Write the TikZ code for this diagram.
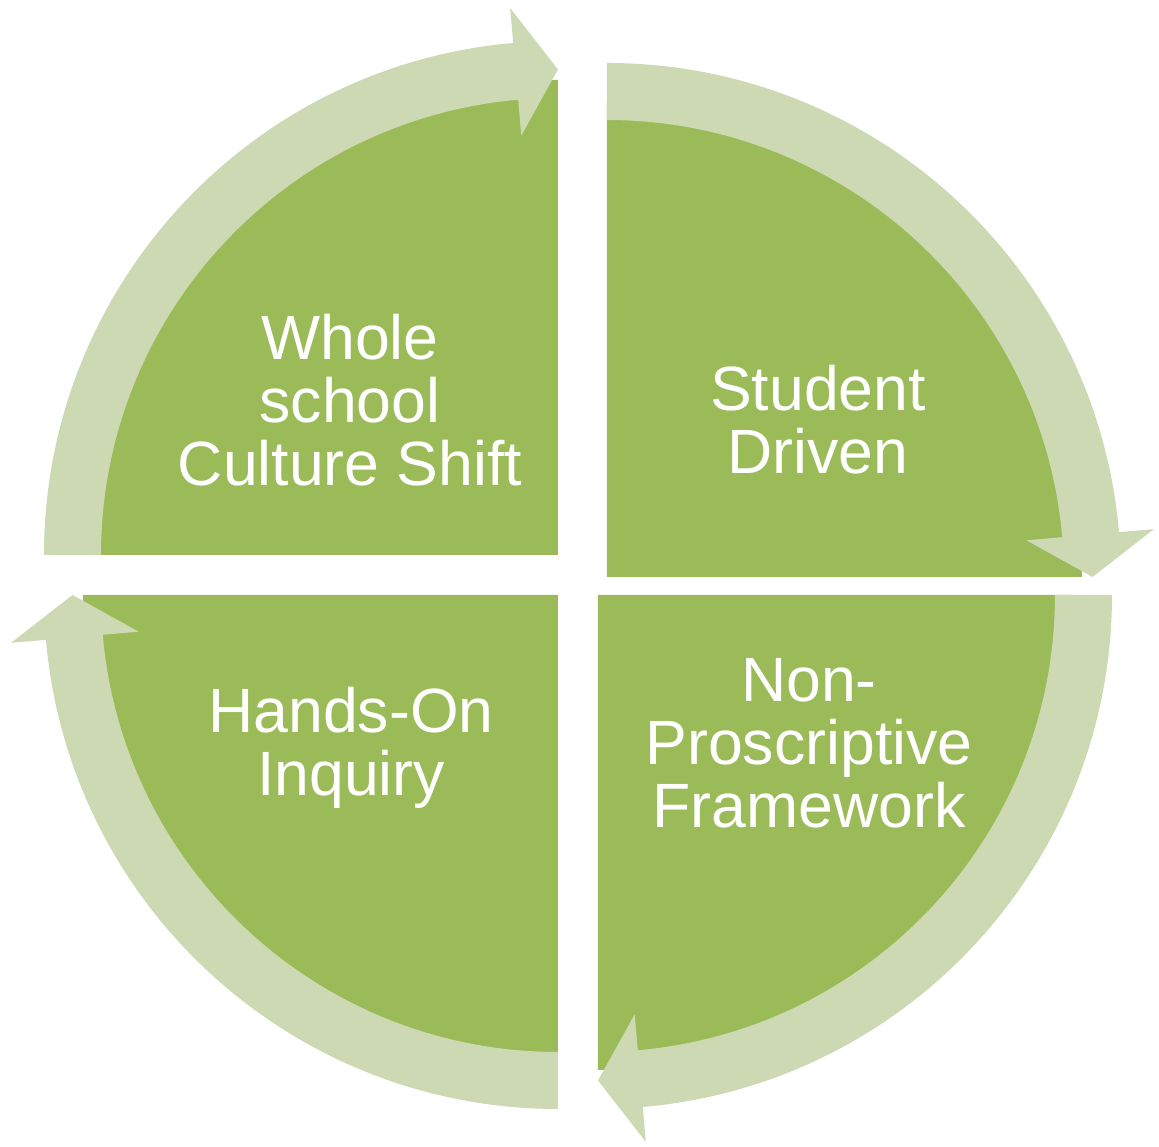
\documentclass[tikz,border=0pt]{standalone}
\usepackage{fontspec}
\setmainfont{Liberation Sans}
\definecolor{piegreen}{RGB}{155,187,89}
\definecolor{ringgreen}{RGB}{205,217,179}
\tikzset{
  pie/.style={fill=piegreen},
  ring/.style={fill=ringgreen},
  txt/.style={text=white, align=center, inner sep=0pt, font=\fontsize{17.8}{17.9}\selectfont}
}
\begin{document}
\begin{tikzpicture}
    \useasboundingbox (0,0) rectangle (11.59,-11.47);

    % Pies
    \fill[pie] (5.58,-5.55) -- ++(90:4.75) arc[start angle=90, end angle=180, radius=4.75] -- cycle;
    \fill[pie] (6.07,-5.77) -- ++(0:4.75) arc[start angle=0, end angle=90, radius=4.75] -- cycle;
    \fill[pie] (5.98,-5.95) -- ++(-90:4.75) arc[start angle=-90, end angle=0, radius=4.75] -- cycle;
    \fill[pie] (5.58,-5.95) -- ++(180:4.75) arc[start angle=180, end angle=270, radius=4.75] -- cycle;

    % Arrows
    \begin{scope}[shift={(5.58,-5.55)}]
      \fill[ring] (180:5.14) arc[start angle=180, end angle=95, radius=5.14] -- (95:5.49) -- (90:4.855) -- (95:4.21) -- (95:4.57) arc[start angle=95, end angle=180, radius=4.57] -- cycle;
    \end{scope}
    \begin{scope}[shift={(6.07,-5.77)}]
      \fill[ring] (90:5.14) arc[start angle=90, end angle=5, radius=5.14] -- (5:5.49) -- (0:4.855) -- (5:4.21) -- (5:4.57) arc[start angle=5, end angle=90, radius=4.57] -- cycle;
    \end{scope}
    \begin{scope}[shift={(5.98,-5.95)}]
      \fill[ring] (0:5.14) arc[start angle=0, end angle=-85, radius=5.14] -- (-85:5.49) -- (-90:4.855) -- (-85:4.21) -- (-85:4.57) arc[start angle=-85, end angle=0, radius=4.57] -- cycle;
    \end{scope}
    \begin{scope}[shift={(5.58,-5.95)}]
      \fill[ring] (-90:5.14) arc[start angle=-90, end angle=-175, radius=5.14] -- (-175:5.49) -- (180:4.855) -- (-175:4.21) -- (-175:4.57) arc[start angle=-175, end angle=-90, radius=4.57] -- cycle;
    \end{scope}

    % Nodes
    \node[txt] at (3.50,-4.00) (culture)   {Whole\\school\\Culture Shift};
    \node[txt] at (8.18,-4.20) (student)   {Student\\Driven};
    \node[txt] at (8.09,-7.43) (framework) {Non-\\Proscriptive\\Framework};
    \node[txt] at (3.51,-7.48) (inquiry)   {Hands-On\\Inquiry};
\end{tikzpicture}
\end{document}
